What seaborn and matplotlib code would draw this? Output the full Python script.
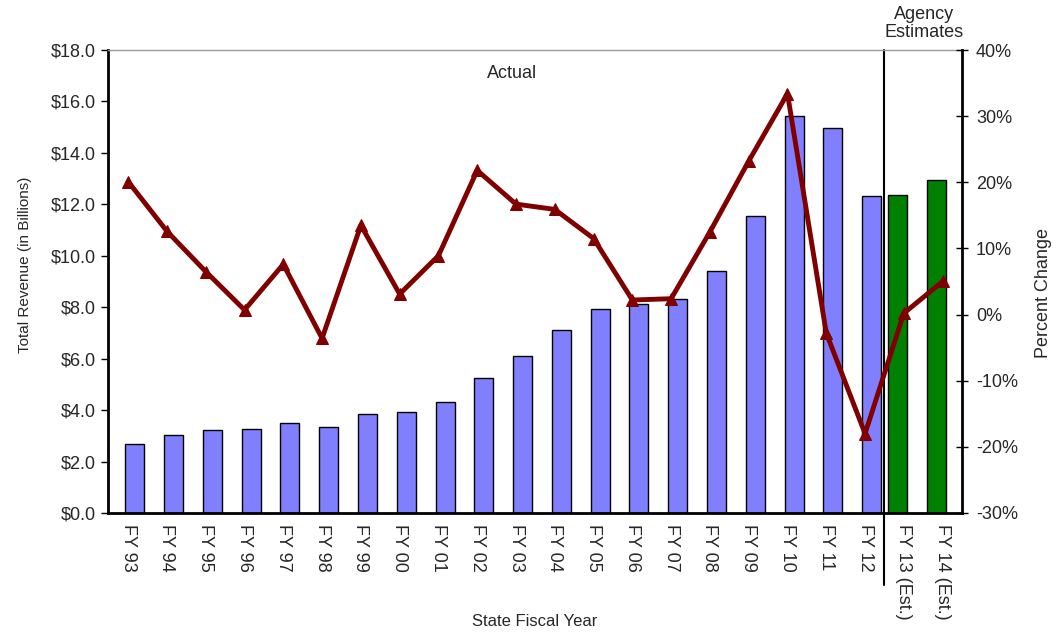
import numpy as np
import pandas as pd
import matplotlib
matplotlib.use("Agg")
import matplotlib.pyplot as plt
import seaborn as sns

# fiscal years (last two are agency estimates)
years = ["FY 93", "FY 94", "FY 95", "FY 96", "FY 97", "FY 98", "FY 99", "FY 00",
         "FY 01", "FY 02", "FY 03", "FY 04", "FY 05", "FY 06", "FY 07", "FY 08",
         "FY 09", "FY 10", "FY 11", "FY 12", "FY 13 (Est.)", "FY 14 (Est.)"]

# total revenue, billions of dollars
actual_revenue = [2.68, 3.03, 3.23, 3.27, 3.50, 3.34, 3.85, 3.93, 4.32, 5.25,
                  6.10, 7.12, 7.93, 8.13, 8.32, 9.41, 11.55, 15.42, 14.97, 12.33]
estimate_revenue = [12.36, 12.95]

# percent change from previous year
pct_change = [20.1, 12.6, 6.5, 0.7, 7.6, -3.6, 13.5, 3.1, 8.9, 21.8, 16.7,
              15.9, 11.5, 2.2, 2.4, 12.5, 23.2, 33.4, -2.8, -18.0, 0.2, 5.0]

rev_ticks = [0, 2, 4, 6, 8, 10, 12, 14, 16, 18]
pct_ticks = [-30, -20, -10, 0, 10, 20, 30, 40]

sns.set_style("white")
plt.rcParams["font.family"] = ["Liberation Sans", "DejaVu Sans"]

n_act = len(actual_revenue)
pos = np.arange(len(years))
df_act = pd.DataFrame({"x": pos[:n_act] + 0.17, "rev": actual_revenue})
df_est = pd.DataFrame({"x": pos[n_act:] - 0.17, "rev": estimate_revenue})
df_pct = pd.DataFrame({"x": pos, "pct": pct_change})

fig = plt.figure(figsize=(10.63, 6.34), dpi=100)
ax = fig.add_axes([0.1016, 0.1909, 0.8034, 0.7302])

sns.barplot(data=df_act, x="x", y="rev", native_scale=True, width=0.49,
            color="#8080ff", saturation=1, edgecolor="black", linewidth=1, ax=ax)
sns.barplot(data=df_est, x="x", y="rev", native_scale=True, width=0.49,
            color="#008000", saturation=1, edgecolor="black", linewidth=1, ax=ax)

ax.set_xlim(-0.52, len(years) - 0.52)
ax.set_ylim(0, 18)
ax.set_yticks(rev_ticks)
ax.set_yticklabels([f"${v:.1f}" for v in rev_ticks], fontsize=13)
ax.set_xticks(pos)
ax.set_xticklabels(years, rotation=270, fontsize=13, va="top", ha="center")
ax.set_xticks(np.arange(len(years) + 1) - 0.5, minor=True)
ax.tick_params(axis="x", which="major", length=0, pad=8)
ax.tick_params(axis="x", which="minor", length=6, width=1, color="black", direction="out")
ax.tick_params(axis="y", length=5, width=1, color="black", direction="out", left=True, pad=4)
ax.set_xlabel("State Fiscal Year", fontsize=12)
ax.xaxis.label.set_va("center")
ax.xaxis.set_label_coords(0.5, -0.235)
ax.set_ylabel("Total Revenue (in Billions)", fontsize=11)
ax.yaxis.label.set_va("center")
ax.yaxis.set_label_coords(-0.097, 0.536)

for side in ["left", "bottom"]:
    ax.spines[side].set_color("black")
    ax.spines[side].set_linewidth(2)
ax.spines["right"].set_visible(False)
ax.spines["top"].set_color("#999999")
ax.spines["top"].set_linewidth(1)

# divider between actual and estimated years
ax.axvline(n_act - 0.5, ymin=-0.155, ymax=1.0, color="black", lw=1.5, clip_on=False)
ax.text(9.91, 17.1, "Actual", fontsize=13, ha="center", va="center")
ax.text(20.52, 1.057, "Agency\nEstimates", fontsize=13, ha="center", va="center",
        linespacing=1.05, transform=ax.get_xaxis_transform())

ax2 = ax.twinx()
sns.lineplot(data=df_pct, x="x", y="pct", color="#800000", linewidth=3.5,
             marker="^", markersize=9, markeredgecolor="#800000", ax=ax2)
ax2.set_ylim(-30, 40)
ax2.set_yticks(pct_ticks)
ax2.set_yticklabels([f"{v}%" for v in pct_ticks], fontsize=13)
ax2.tick_params(axis="y", length=8, width=1, color="black", direction="inout", right=True, pad=6)
ax2.set_ylabel("Percent Change", fontsize=13)
ax2.yaxis.label.set_va("center")
ax2.yaxis.set_label_coords(1.095, 0.475)
ax2.set_xlabel("")
for side in ["left", "bottom", "top"]:
    ax2.spines[side].set_visible(False)
ax2.spines["right"].set_color("black")
ax2.spines["right"].set_linewidth(2)

fig.savefig("out.png", dpi=100)
